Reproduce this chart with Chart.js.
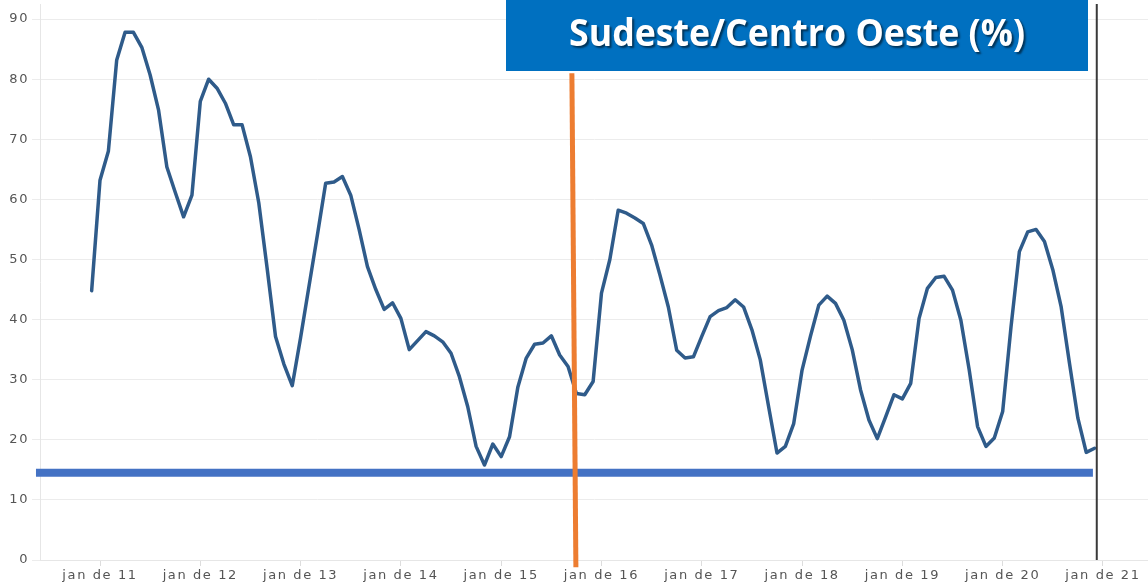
<!DOCTYPE html>
<html lang="pt-BR">
<head>
<meta charset="utf-8">
<title>Sudeste/Centro Oeste (%)</title>
<script src="https://cdn.jsdelivr.net/npm/chart.js@4/dist/chart.umd.min.js"></script>
<style>
  html, body { margin: 0; padding: 0; background: #fff; }
  #wrap { width: 1148px; height: 587px; position: relative; }
</style>
</head>
<body>
<div id="wrap"><canvas id="energiaChart"></canvas></div>
<script>
// rótulos do eixo x (um por janeiro)
const rotulosX = ['jan de 11', 'jan de 12', 'jan de 13', 'jan de 14', 'jan de 15', 'jan de 16',
                  'jan de 17', 'jan de 18', 'jan de 19', 'jan de 20', 'jan de 21'];

// mês de início da série: dez/2010 = -1 (jan/2011 = 0)
const mesInicial = -1;

// Sudeste/Centro Oeste (%) mensal, dez/2010 a dez/2020
const sudesteCO = [
  44.8,
  63.2, 68.0, 83.2, 87.8, 87.8, 85.3, 80.7, 74.9, 65.4, 61.2, 57.1, 60.7,   // 2011
  76.3, 80.0, 78.5, 76.0, 72.4, 72.4, 67.1, 59.4, 48.5, 37.2, 32.6, 29.0,   // 2012
  37.0, 45.5, 54.0, 62.7, 62.9, 63.8, 60.7, 55.0, 48.8, 45.0, 41.7, 42.8,   // 2013
  40.2, 35.0, 36.5, 38.0, 37.3, 36.3, 34.4, 30.5, 25.5, 18.9, 15.8, 19.3,   // 2014
  17.2, 20.5, 28.8, 33.6, 35.9, 36.1, 37.3, 34.1, 32.2, 27.7, 27.5, 29.7,   // 2015
  44.4, 50.0, 58.2, 57.7, 56.9, 56.0, 52.4, 47.4, 42.1, 34.9, 33.6, 33.8,   // 2016
  37.2, 40.5, 41.5, 42.0, 43.3, 42.1, 38.3, 33.3, 25.5, 17.8, 18.9, 22.7,   // 2017
  31.6, 37.2, 42.4, 43.9, 42.7, 39.9, 35.0, 28.3, 23.3, 20.2, 23.8, 27.5,   // 2018
  26.8, 29.4, 40.2, 45.2, 47.0, 47.2, 44.9, 39.9, 31.6, 22.2, 18.9, 20.3,   // 2019
  24.7, 38.8, 51.3, 54.6, 55.0, 53.0, 48.3, 42.1, 32.7, 23.6, 17.9, 18.6    // 2020
];

// linhas de referência
const nivelMinimo = 14.5;            // linha azul horizontal
const marcoLaranja = [56.46, 56.94]; // posição (mês) topo e base da linha laranja
const marcoFinal = 119.26;           // linha preta vertical

const pontos = sudesteCO.map((v, i) => ({ x: mesInicial + i, y: v }));

const tituloPlugin = {
    id: 'tituloBox',
    beforeDraw(chart) {
        chart.ctx.letterSpacing = '1.6px';
    },
    afterDraw(chart) {
        const ctx = chart.ctx;
        ctx.save();
        ctx.letterSpacing = '0px';
        ctx.fillStyle = '#0070c0';
        ctx.fillRect(506, 0, 582, 71);
        ctx.font = 'bold 38px "Open Sans", "Noto Sans", sans-serif';
        ctx.textAlign = 'center';
        ctx.textBaseline = 'middle';
        ctx.shadowColor = 'rgba(0, 0, 0, 0.55)';
        ctx.shadowOffsetX = 2;
        ctx.shadowOffsetY = 2;
        ctx.shadowBlur = 2;
        ctx.fillStyle = '#ffffff';
        ctx.fillText('Sudeste/Centro Oeste (%)', 797, 35, 456);
        ctx.restore();
    }
};

const ctx = document.getElementById('energiaChart').getContext('2d');
new Chart(ctx, {
    type: 'line',
    data: {
        datasets: [
            {
                label: 'Sudeste/Centro Oeste (%)',
                data: pontos,
                borderColor: '#2f5b8a',
                borderWidth: 3.5,
                tension: 0,
                pointRadius: 0,
                borderJoinStyle: 'round',
                borderCapStyle: 'round',
                order: 3
            },
            {
                label: 'mínimo',
                data: [{ x: -7.66, y: nivelMinimo }, { x: 118.8, y: nivelMinimo }],
                borderColor: '#4472c4',
                borderWidth: 8,
                pointRadius: 0,
                clip: false,
                order: 2
            },
            {
                label: 'marco',
                data: [{ x: marcoLaranja[0], y: 81.0 }, { x: marcoLaranja[1], y: -1.2 }],
                borderColor: '#ed7d31',
                borderWidth: 5,
                pointRadius: 0,
                clip: false,
                order: 0
            },
            {
                label: 'fim',
                data: [{ x: marcoFinal, y: 92.5 }, { x: marcoFinal, y: 0 }],
                borderColor: '#3a3a3a',
                borderWidth: 2,
                pointRadius: 0,
                clip: false,
                order: 1
            }
        ]
    },
    options: {
        responsive: true,
        maintainAspectRatio: false,
        animation: false,
        layout: { padding: { top: 4, left: 0, right: 0, bottom: 0 } },
        plugins: {
            legend: { display: false },
            tooltip: { enabled: false }
        },
        scales: {
            x: {
                type: 'linear',
                min: -7.179,
                max: 125.39,
                afterFit: (s) => { s.height = 27; s.paddingLeft = 0; s.paddingRight = 0; },
                afterBuildTicks: (s) => { s.ticks = rotulosX.map((_, i) => ({ value: i * 12 })); },
                grid: { drawOnChartArea: false, tickLength: 6, color: '#dddddd' },
                border: { color: '#e6e6e6' },
                ticks: {
                    autoSkip: false,
                    maxRotation: 0,
                    padding: 2,
                    color: '#555',
                    font: { family: '"DejaVu Sans"', size: 13 },
                    callback: (v) => rotulosX[Math.round(v / 12)]
                }
            },
            y: {
                min: 0,
                max: 92.51,
                afterFit: (s) => { s.width = 40; s.paddingTop = 0; s.paddingBottom = 0; },
                grid: { color: '#ececec', tickLength: 8 },
                border: { color: '#e6e6e6' },
                ticks: {
                    stepSize: 10,
                    includeBounds: false,
                    padding: 3,
                    color: '#555',
                    font: { family: '"DejaVu Sans"', size: 13 }
                }
            }
        }
    },
    plugins: [tituloPlugin]
});
</script>
</body>
</html>
